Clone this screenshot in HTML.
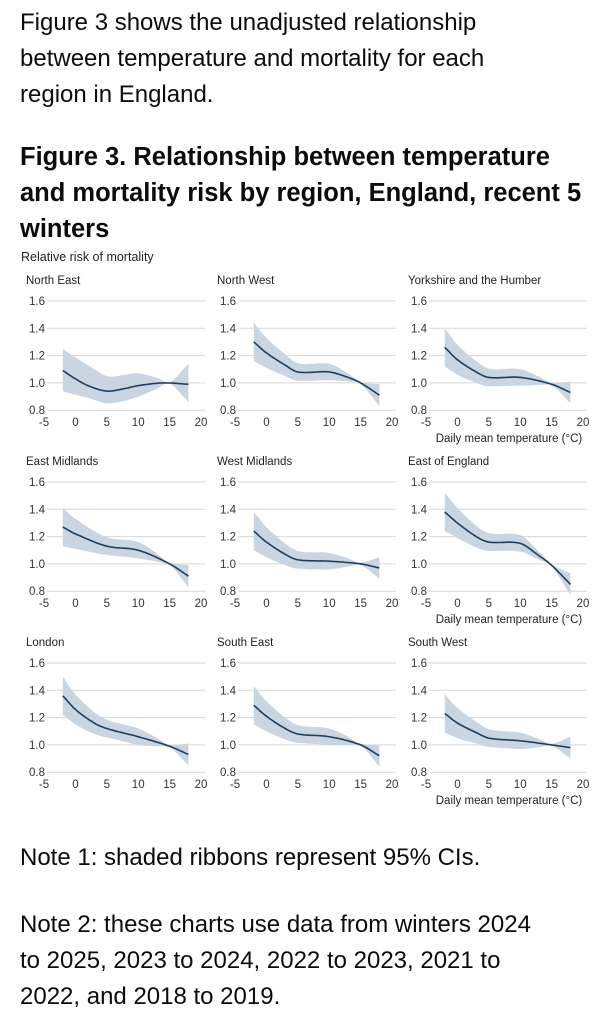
<!DOCTYPE html>
<html><head><meta charset="utf-8"><style>
body{margin:0;width:612px;height:1024px;background:#fff;color:#0b0c0c;font-family:"Liberation Sans",sans-serif;overflow:hidden;position:relative}
.t{position:absolute;left:20px;font-size:24px;line-height:36px;margin:0}
.h{position:absolute;left:20px;font-size:25.5px;line-height:36px;font-weight:bold;margin:0}
svg{position:absolute;left:0;top:0}
</style></head><body>
<p class="t" style="top:5px">Figure 3 shows the unadjusted relationship<br>between temperature and mortality for each<br>region in England.</p>
<p class="h" style="top:139px">Figure 3. Relationship between temperature<br>and mortality risk by region, England, recent 5<br>winters</p>
<p class="t" style="top:840px">Note 1: shaded ribbons represent 95% CIs.</p>
<p class="t" style="top:907px">Note 2: these charts use data from winters 2024<br>to 2025, 2023 to 2024, 2022 to 2023, 2021 to<br>2022, and 2018 to 2019.</p>
<svg id="s" width="612" height="1024" font-family="Liberation Sans, sans-serif"></svg>
<script>
const P=[
["North East",[[-2,1.09],[0,1.03],[2,0.98],[5,0.94],[8,0.96],[10,0.98],[14,1.0],[18,0.99]],[[-2,0.16,0.15],[2,0.15,0.09],[5,0.11,0.09],[8,0.1,0.09],[10,0.09,0.08],[13,0.04,0.04],[15,0.005,0.005],[18,0.15,0.13]]],
["North West",[[-2,1.30],[0,1.22],[3,1.13],[5,1.08],[10,1.08],[13,1.04],[15,1.0],[18,0.91]]],
["Yorkshire and the Humber",[[-2,1.26],[0,1.17],[3,1.08],[5,1.04],[10,1.04],[15,0.99],[18,0.93]]],
["East Midlands",[[-2,1.27],[0,1.22],[5,1.13],[10,1.10],[15,1.0],[18,0.91]]],
["West Midlands",[[-2,1.24],[0,1.16],[3,1.07],[5,1.03],[10,1.02],[15,1.0],[18,0.97]]],
["East of England",[[-2,1.38],[0,1.30],[3,1.20],[5,1.16],[10,1.15],[13,1.06],[15,0.99],[18,0.85]]],
["London",[[-2,1.36],[0,1.26],[3,1.16],[5,1.12],[10,1.06],[15,0.99],[18,0.93]]],
["South East",[[-2,1.29],[0,1.21],[3,1.12],[5,1.08],[10,1.06],[15,1.0],[18,0.92]]],
["South West",[[-2,1.23],[0,1.16],[3,1.09],[5,1.05],[10,1.03],[15,1.0],[18,0.98]]]];
const HW=[[-2,0.14],[0,0.11],[5,0.065],[10,0.06],[13,0.03],[15,0.008],[18,0.08]];
function interp(pts,x){for(let i=0;i<pts.length-1;i++){const a=pts[i],b=pts[i+1];if(x>=a[0]&&x<=b[0]){const p0=pts[Math.max(i-1,0)],p3=pts[Math.min(i+2,pts.length-1)];const t=(x-a[0])/(b[0]-a[0]);const m1=(b[1]-p0[1])/(b[0]-p0[0])*(b[0]-a[0]),m2=(p3[1]-a[1])/(p3[0]-a[0])*(b[0]-a[0]);const t2=t*t,t3=t2*t;return (2*t3-3*t2+1)*a[1]+(t3-2*t2+t)*m1+(-2*t3+3*t2)*b[1]+(t3-t2)*m2;}}return pts[pts.length-1][1];}
let h='';
P.forEach((p,i)=>{const c=i%3,r=Math.floor(i/3);const ox=c*191,oy=r*181;
const X=v=>ox+44+(v+5)*6.28,Y=v=>oy+301+(1.6-v)/0.2*27.3;
h+=`<text x="${ox+26}" y="${oy+284}" font-size="11.5" fill="#222">${p[0]}</text>`;
[1.6,1.4,1.2,1.0,0.8].forEach(v=>{h+=`<line x1="${ox+47}" x2="${ox+205}" y1="${Y(v)}" y2="${Y(v)}" stroke="#d6d6d6" stroke-width="1"/>`;h+=`<text x="${ox+45}" y="${Y(v)+4}" font-size="11.5" fill="#333" text-anchor="end">${v.toFixed(1)}</text>`;});
[-5,0,5,10,15,20].forEach(v=>{h+=`<text x="${X(v)}" y="${oy+426}" font-size="11.5" fill="#333" text-anchor="middle">${v}</text>`;});
let up=[],lo=[],ln=[];
for(let x=-2;x<=18.001;x+=0.25){const y=interp(p[1],x);let u,l;if(p[2]){u=y+interp(p[2].map(q=>[q[0],q[1]]),x);l=y-interp(p[2].map(q=>[q[0],q[2]]),x);}else{const w=interp(HW,x);u=y+w;l=y-w;}
ln.push(X(x).toFixed(1)+','+Y(y).toFixed(1));up.push(X(x).toFixed(1)+','+Y(u).toFixed(1));lo.unshift(X(x).toFixed(1)+','+Y(l).toFixed(1));}
h+=`<polygon points="${up.join(' ')} ${lo.join(' ')}" fill="#c9d5e0"/>`;
h+=`<polyline points="${ln.join(' ')}" fill="none" stroke="#1f3f5f" stroke-width="1.6"/>`;
if(c==2)h+=`<text x="${ox+127}" y="${oy+442}" font-size="11.5" fill="#222" text-anchor="middle">Daily mean temperature (°C)</text>`;
});
h+=`<text x="21" y="261" font-size="12.5" fill="#222">Relative risk of mortality</text>`;
document.getElementById('s').innerHTML=h;
</script>
</body></html>
